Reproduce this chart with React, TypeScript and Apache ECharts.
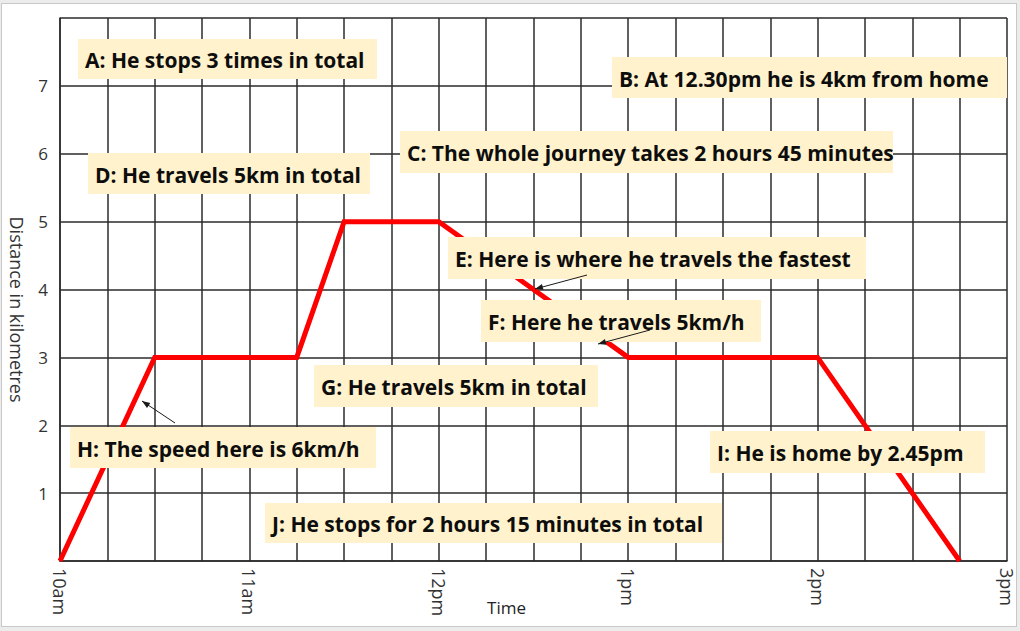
import React, { useEffect, useRef } from 'react';
import * as echarts from 'echarts';

// Time in minutes after 10am, distance in km
const timeMinutes = [0, 30, 75, 90, 120, 180, 240, 285];
const distanceKm = [0, 3, 3, 5, 5, 3, 3, 0];
const hourLabels = ['10am', '11am', '12pm', '1pm', '2pm', '3pm'];
const yTicks = [1, 2, 3, 4, 5, 6, 7];

const noteTexts = [
  'A: He stops 3 times in total',
  'B: At 12.30pm he is 4km from home',
  'C: The whole journey takes 2 hours 45 minutes',
  'D: He travels 5km in total',
  'E: Here is where he travels the fastest',
  'F: Here he travels 5km/h',
  'G: He travels 5km in total',
  'H: The speed here is 6km/h',
  'I: He is home by 2.45pm',
  'J: He stops for 2 hours 15 minutes in total',
];

// layout of annotation boxes: [left, top, right, bottom] in pixels
const noteBoxes = [
  [78, 39, 377, 79],
  [612, 57, 1007, 98],
  [400, 131, 893, 173],
  [88, 153, 370, 194],
  [448, 237, 866, 279],
  [481, 300, 761, 342],
  [314, 365, 598, 407],
  [70, 427, 376, 468],
  [710, 431, 985, 473],
  [265, 503, 722, 543],
];

// arrows: [x1, y1, x2(tip), y2(tip)]
const arrowLines = [
  [587, 275, 535, 289],
  [650, 330, 598, 344],
  [175, 423, 142, 401],
];

const AXIS_FONT = '"Open Sans"';

function arrowGraphics() {
  const out: any[] = [];
  arrowLines.forEach(([x1, y1, x2, y2]) => {
    out.push({
      type: 'line',
      z: 30,
      shape: { x1, y1, x2, y2 },
      style: { stroke: '#1a1a1a', lineWidth: 1 },
    });
    const ang = Math.atan2(y2 - y1, x2 - x1);
    const len = 8;
    const w = 3;
    const bx = x2 - len * Math.cos(ang);
    const by = y2 - len * Math.sin(ang);
    const px = -Math.sin(ang) * w;
    const py = Math.cos(ang) * w;
    out.push({
      type: 'polygon',
      z: 31,
      shape: { points: [[x2, y2], [bx + px, by + py], [bx - px, by - py]] },
      style: { fill: '#1a1a1a' },
    });
  });
  return out;
}

export default function App() {
  const ref = useRef<HTMLDivElement>(null);
  useEffect(() => {
    if (!ref.current) return;
    const chart = echarts.init(ref.current, undefined, { renderer: 'svg' });
    const seriesData = timeMinutes.map((t, i) => [t, distanceKm[i]]);
    const graphics: any[] = [];
    noteTexts.forEach((txt, i) => {
      const [l, t, r, b] = noteBoxes[i];
      graphics.push({
        type: 'rect',
        z: 20,
        shape: { x: l, y: t, width: r - l, height: b - t },
        style: { fill: '#fff2cc' },
      });
      graphics.push({
        type: 'text',
        z: 21,
        x: l + 7,
        y: (t + b) / 2 + 1,
        style: {
          text: txt,
          fill: '#0d0d0d',
          font: 'bold 21px "Open Sans"',
          textAlign: 'left',
          textVerticalAlign: 'middle',
        },
      });
    });
    graphics.push(...arrowGraphics());

    chart.setOption({
      animation: false,
      backgroundColor: 'transparent',
      grid: { left: 60, top: 18, right: 13, bottom: 70 },
      xAxis: {
        type: 'value',
        min: 0,
        max: 300,
        interval: 15,
        name: 'Time',
        nameLocation: 'middle',
        nameGap: 38,
        nameMoveOverlap: false,
        nameTextStyle: { fontFamily: AXIS_FONT, fontSize: 17, color: '#222', padding: [0, 54, 0, 0] },
        axisLine: { show: true, lineStyle: { color: '#2b2b2b', width: 1.5 } },
        axisTick: { show: false },
        axisLabel: {
          rotate: -90,
          margin: 7,
          fontFamily: AXIS_FONT,
          fontSize: 18,
          color: '#333',
          formatter: (v: number) => (v % 60 === 0 ? hourLabels[v / 60] : ''),
        },
        splitLine: { show: true, lineStyle: { color: '#2b2b2b', width: 1.5 } },
      },
      yAxis: {
        type: 'value',
        min: 0,
        max: 8,
        interval: 1,
        name: 'Distance in kilometres',
        nameLocation: 'middle',
        nameRotate: -90,
        nameGap: 34,
        nameMoveOverlap: false,
        nameTextStyle: { fontFamily: AXIS_FONT, fontSize: 18, color: '#333', padding: [0, 0, 0, 40] },
        axisLine: { show: true, lineStyle: { color: '#2b2b2b', width: 1.5 } },
        axisTick: { show: false },
        axisLabel: {
          margin: 12,
          fontFamily: AXIS_FONT,
          fontSize: 17,
          color: '#333',
          formatter: (v: number) => (yTicks.indexOf(v) >= 0 ? String(v) : ''),
        },
        splitLine: { show: true, lineStyle: { color: '#2b2b2b', width: 1.5 } },
      },
      series: [
        {
          type: 'line',
          data: seriesData,
          showSymbol: false,
          symbol: 'none',
          lineStyle: { color: '#ff0000', width: 5, join: 'miter', cap: 'butt' },
          z: 5,
        },
      ],
      graphic: graphics,
    });
    return () => chart.dispose();
  }, []);

  return (
    <div style={{ position: 'absolute', left: 0, top: 0, width: 1020, height: 631, background: '#ececec' }}>
      <div
        style={{
          position: 'absolute',
          left: 1,
          top: 3,
          width: 1016,
          height: 624,
          background: '#ffffff',
          border: '1px solid #c8c8c8',
          boxSizing: 'border-box',
        }}
      />
      <div ref={ref} style={{ position: 'absolute', left: 0, top: 0, width: 1020, height: 631 }} />
    </div>
  );
}
